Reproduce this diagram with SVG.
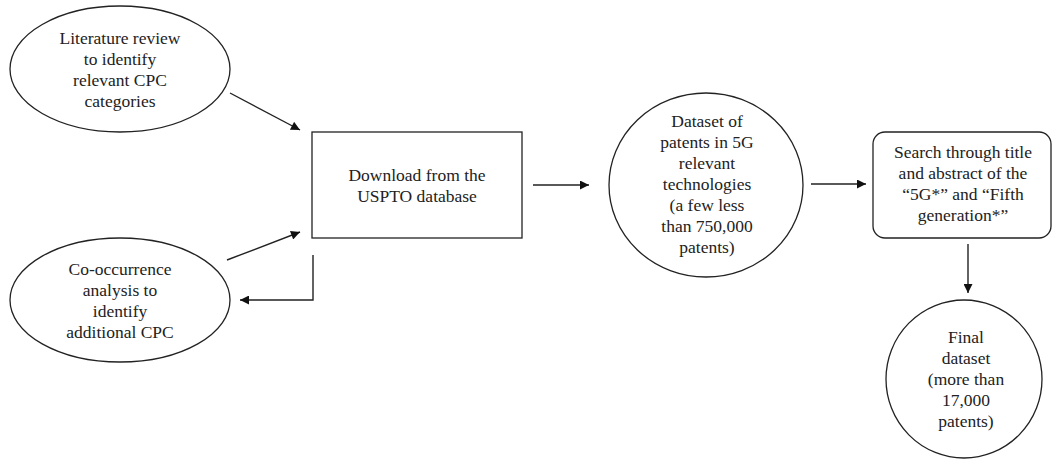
<svg xmlns="http://www.w3.org/2000/svg" width="1053" height="460" viewBox="0 0 1053 460">
<style>
.s{fill:#fff;stroke:#222;stroke-width:1.3}
.t{font-family:"Liberation Serif","Times New Roman",serif;font-size:17.5px;fill:#222;text-anchor:middle}
.c{stroke:#222;stroke-width:1.4;fill:none}
</style>
<defs>
<marker id="ah" viewBox="0 0 10 10" refX="10" refY="5" markerWidth="10" markerHeight="9" markerUnits="userSpaceOnUse" orient="auto">
<path d="M0,0 L10,5 L0,10 z" fill="#111"/>
</marker>
</defs>
<rect width="1053" height="460" fill="#fff"/>
<g id="n1">
<ellipse class="s" cx="120" cy="69" rx="110" ry="63"/>
<text class="t"><tspan x="120" y="44">Literature review</tspan><tspan x="120" y="65">to identify</tspan><tspan x="120" y="86">relevant CPC</tspan><tspan x="120" y="107">categories</tspan></text>
</g>
<g id="n2">
<ellipse class="s" cx="120" cy="300" rx="110" ry="62"/>
<text class="t"><tspan x="120" y="275">Co-occurrence</tspan><tspan x="120" y="296">analysis to</tspan><tspan x="120" y="317">identify</tspan><tspan x="120" y="338">additional CPC</tspan></text>
</g>
<g id="n3">
<rect class="s" x="312" y="132" width="210" height="106"/>
<text class="t"><tspan x="417" y="181">Download from the</tspan><tspan x="417" y="202">USPTO database</tspan></text>
</g>
<g id="n4">
<ellipse class="s" cx="706" cy="185" rx="97" ry="92"/>
<text class="t"><tspan x="707" y="127">Dataset of</tspan><tspan x="707" y="148">patents in 5G</tspan><tspan x="707" y="169">relevant</tspan><tspan x="707" y="190">technologies</tspan><tspan x="707" y="211">(a few less</tspan><tspan x="707" y="232">than 750,000</tspan><tspan x="707" y="253">patents)</tspan></text>
</g>
<g id="n5">
<rect class="s" x="873" y="132" width="178" height="106" rx="12"/>
<text class="t"><tspan x="963" y="158">Search through title</tspan><tspan x="963" y="179">and abstract of the</tspan><tspan x="963" y="200">“5G*” and “Fifth</tspan><tspan x="963" y="221">generation*”</tspan></text>
</g>
<g id="n6">
<ellipse class="s" cx="964" cy="379" rx="78" ry="79"/>
<text class="t"><tspan x="966" y="343">Final</tspan><tspan x="966" y="364">dataset</tspan><tspan x="966" y="385">(more than</tspan><tspan x="966" y="406">17,000</tspan><tspan x="966" y="427">patents)</tspan></text>
</g>
<g id="connectors">
<line class="c" x1="230" y1="93" x2="300" y2="130" marker-end="url(#ah)"/>
<line class="c" x1="227" y1="260" x2="300" y2="232" marker-end="url(#ah)"/>
<polyline class="c" points="313,255 313,300 240,300" marker-end="url(#ah)"/>
<line class="c" x1="533" y1="185" x2="589" y2="185" marker-end="url(#ah)"/>
<line class="c" x1="811" y1="184" x2="866" y2="184" marker-end="url(#ah)"/>
<line class="c" x1="968" y1="244" x2="968" y2="293" marker-end="url(#ah)"/>
</g>
</svg>
